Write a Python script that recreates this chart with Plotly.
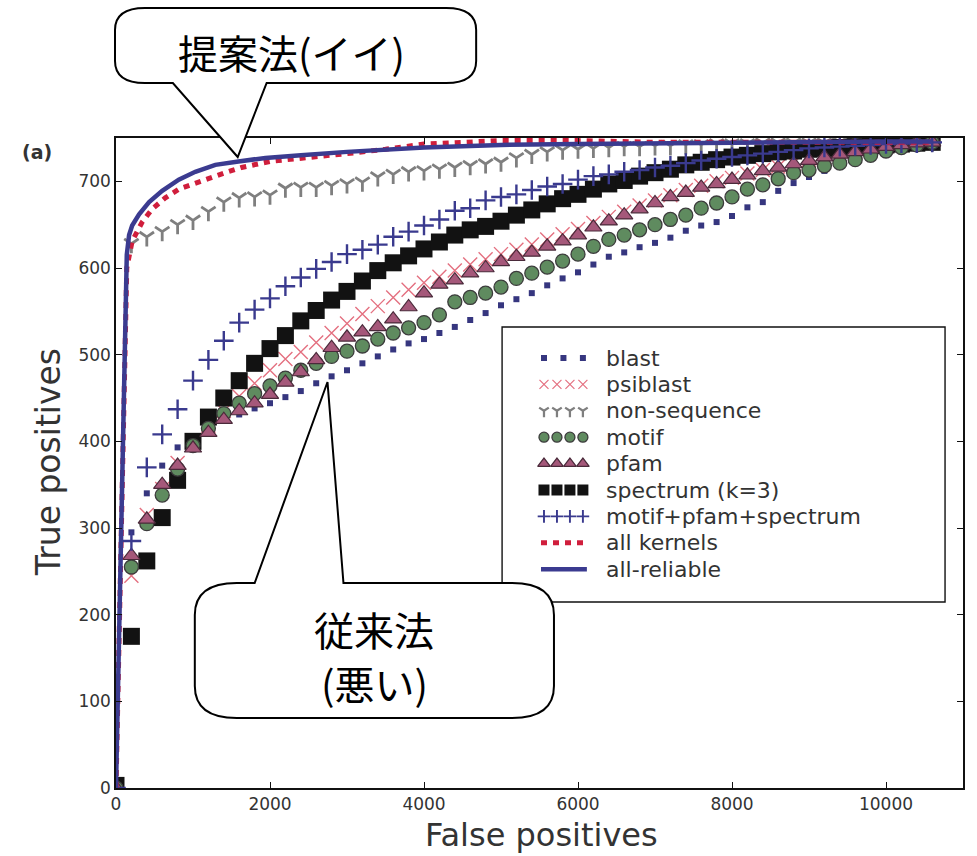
import plotly.graph_objects as go

# ---------------- data ----------------
fp_grid = [0, 200, 400, 600, 800, 1000, 1200, 1400, 1600, 1800,
           2000, 2200, 2400, 2600, 2800, 3000, 3200, 3400, 3600, 3800,
           4000, 4200, 4400, 4600, 4800, 5000, 5200, 5400, 5600, 5800,
           6000, 6200, 6400, 6600, 6800, 7000, 7200, 7400, 7600, 7800,
           8000, 8200, 8400, 8600, 8800, 9000, 9200, 9400, 9600, 9800,
           10000, 10200, 10400, 10600]

tp_blast = [0, 295, 340, 372, 393, 406, 416, 424, 431, 438,
            444, 451, 458, 467, 475, 482, 490, 498, 506, 513,
            518, 525, 532, 540, 548, 557, 564, 571, 580, 588,
            595, 604, 613, 618, 624, 629, 635, 643, 649, 653,
            660, 670, 676, 689, 698, 705, 712, 718, 724, 729,
            734, 738, 742, 745]

tp_psiblast = [0, 245, 315, 345, 375, 398, 418, 435, 452, 467,
               482, 495, 503, 514, 525, 536, 547, 556, 566, 575,
               583, 590, 597, 604, 610, 616, 621, 627, 633, 639,
               645, 652, 659, 665, 672, 678, 684, 690, 695, 700,
               704, 709, 713, 717, 721, 725, 728, 731, 734, 737,
               740, 742, 744, 745]

tp_nonseq = [0, 628, 636, 642, 650, 655, 665, 676, 681, 682,
             684, 692, 693, 693, 695, 697, 699, 705, 708, 711,
             712, 714, 716, 718, 720, 722, 727, 731, 734, 736,
             737, 738, 739, 740, 740, 741, 741, 742, 742, 743,
             743, 743, 744, 744, 744, 744, 744, 745, 745, 745,
             745, 745, 745, 745]

tp_motif = [0, 255, 305, 338, 368, 395, 415, 432, 444, 455,
            464, 473, 482, 490, 498, 504, 510, 518, 525, 531,
            537, 546, 561, 566, 571, 578, 588, 594, 601, 608,
            616, 625, 633, 638, 644, 650, 656, 661, 669, 675,
            682, 691, 696, 703, 710, 713, 718, 721, 725, 730,
            735, 739, 742, 745]

tp_pfam = [0, 268, 310, 350, 372, 392, 410, 425, 435, 444,
           454, 468, 480, 494, 508, 520, 526, 532, 541, 555,
           571, 581, 586, 594, 600, 607, 613, 618, 625, 631,
           638, 647, 654, 661, 668, 675, 682, 687, 693, 697,
           702, 707, 712, 716, 720, 724, 728, 731, 734, 737,
           740, 742, 744, 745]

tp_spectrum = [3, 175, 262, 312, 355, 400, 428, 450, 470, 490,
               507, 522, 539, 551, 563, 573, 585, 597, 606, 614,
               622, 630, 638, 644, 648, 654, 661, 667, 674, 680,
               685, 691, 697, 701, 706, 710, 714, 719, 722, 725,
               728, 730, 732, 734, 735, 737, 738, 739, 740, 741,
               742, 743, 744, 745]

tp_mps = [0, 285, 370, 408, 437, 470, 494, 516, 537, 552,
          565, 579, 589, 599, 607, 616, 621, 627, 636, 642,
          649, 656, 666, 669, 678, 682, 685, 690, 694, 697,
          702, 706, 708, 711, 713, 716, 718, 721, 724, 726,
          728, 730, 732, 734, 736, 738, 739, 740, 741, 742,
          743, 744, 744, 745]

fp_allk = [0, 20, 50, 80, 110, 140, 210, 340, 470, 640, 815, 990, 1200,
           1420, 1630, 2000, 2500, 3000, 3500, 4000, 5000, 6000, 7000,
           8000, 9000, 10000, 10600]
tp_allk = [0, 80, 205, 335, 465, 600, 631, 653, 668, 681, 691, 697, 703,
           710, 716, 723, 727, 732, 737, 743, 747, 747, 745,
           745, 745, 745, 745]

fp_allrel = [0, 20, 50, 80, 110, 140, 170, 210, 300, 430, 600, 815, 1030,
             1290, 1590, 1940, 2400, 3000, 4000, 5000, 6000, 7000, 8000,
             9000, 10000, 10600]
tp_allrel = [0, 85, 210, 345, 480, 615, 638, 649, 662, 676, 689, 702, 711,
             719, 723, 727, 730, 734, 739, 742, 743, 744, 745,
             746, 746, 746]

series_names = ["blast", "psiblast", "non-sequence", "motif", "pfam",
                "spectrum (k=3)", "motif+pfam+spectrum", "all kernels",
                "all-reliable"]

x_ticks = [0, 2000, 4000, 6000, 8000, 10000]
y_ticks = [0, 100, 200, 300, 400, 500, 600, 700]

# ---------------- styles ----------------
W, H = 977, 856
L, R, T, B = 116, 965, 138, 788
FONT = "DejaVu Sans"
CJK = "Noto Sans CJK JP"

NAVY = "#36367f"
RED = "#d01e3c"

styles = {
    "blast": dict(mode="markers", marker=dict(symbol="square", size=6, color=NAVY)),
    "psiblast": dict(mode="markers", marker=dict(symbol="x-thin", size=14,
                     line=dict(color="#e47080", width=1.4))),
    "non-sequence": dict(mode="markers", marker=dict(symbol="y-down", size=12,
                         line=dict(color="#7f7f7f", width=2.8))),
    "motif": dict(mode="markers", marker=dict(symbol="circle", size=14, color="#5f8b5f",
                  line=dict(color="#3c3c3c", width=1.3))),
    "pfam": dict(mode="markers", marker=dict(symbol="triangle-up", size=15, color="#a5587a",
                 line=dict(color="#4a2a3a", width=1.2))),
    "spectrum (k=3)": dict(mode="markers", marker=dict(symbol="square", size=17, color="#121212")),
    "motif+pfam+spectrum": dict(mode="markers", marker=dict(symbol="cross-thin", size=14,
                                line=dict(color="#3a3a8e", width=2.4))),
    "all kernels": dict(mode="lines", line=dict(color=RED, width=5, dash="6px,6px")),
    "all-reliable": dict(mode="lines", line=dict(color="#3b3b90", width=4.5)),
}

data_x = {
    "blast": fp_grid, "psiblast": fp_grid, "non-sequence": fp_grid,
    "motif": fp_grid, "pfam": fp_grid, "spectrum (k=3)": fp_grid,
    "motif+pfam+spectrum": fp_grid, "all kernels": fp_allk, "all-reliable": fp_allrel,
}
data_y = {
    "blast": tp_blast, "psiblast": tp_psiblast, "non-sequence": tp_nonseq,
    "motif": tp_motif, "pfam": tp_pfam, "spectrum (k=3)": tp_spectrum,
    "motif+pfam+spectrum": tp_mps, "all kernels": tp_allk, "all-reliable": tp_allrel,
}

draw_order = ["blast", "psiblast", "non-sequence", "spectrum (k=3)", "motif", "pfam",
              "motif+pfam+spectrum", "all kernels", "all-reliable"]

fig = go.Figure()
for name in draw_order:
    fig.add_trace(go.Scatter(x=data_x[name], y=data_y[name], name=name,
                             showlegend=False, cliponaxis=True, **styles[name]))


def P(px, py):
    return (px - L) / (R - L), (B - py) / (B - T)


# ---------------- hand-made legend (matplotlib look) ----------------
leg_x0, leg_x1, leg_y0, leg_y1 = 503, 947, 327, 602
row0, row_step = 358, 26.4
sym_x0, sym_x1 = 545, 584
text_x = 606

lx0, ly0 = P(leg_x0, leg_y1)
lx1, ly1 = P(leg_x1, leg_y0)
fig.add_shape(type="rect", xref="paper", yref="paper", x0=lx0, x1=lx1, y0=ly0, y1=ly1,
              line=dict(color="#111111", width=1.4), fillcolor="white", layer="below")

legend_marker_size = {"blast": 6, "psiblast": 9, "non-sequence": 8, "motif": 10,
                      "pfam": 11, "spectrum (k=3)": 11, "motif+pfam+spectrum": 9}
for i, name in enumerate(series_names):
    ry = row0 + i * row_step
    st = styles[name]
    if st["mode"] == "markers":
        n = 3 if name == "blast" else 4
        xs = [sym_x0 + (sym_x1 - sym_x0) * k / (n - 1) for k in range(n)]
        mk = dict(st["marker"])
        mk["size"] = legend_marker_size[name]
        if "line" in mk and name in ("psiblast", "non-sequence", "motif+pfam+spectrum"):
            mk["line"] = dict(mk["line"], width=max(1.2, mk["line"]["width"] * 0.8))
        fig.add_trace(go.Scatter(x=xs, y=[ry] * n, mode="markers", marker=mk,
                                 xaxis="x2", yaxis="y2", showlegend=False, hoverinfo="skip"))
    else:
        fig.add_trace(go.Scatter(x=[sym_x0 - 3, sym_x1 + 4], y=[ry, ry], mode="lines",
                                 line=st["line"], xaxis="x2", yaxis="y2",
                                 showlegend=False, hoverinfo="skip"))
    tx, ty = P(text_x, ry)
    fig.add_annotation(x=tx, y=ty, xref="paper", yref="paper", text=name, showarrow=False,
                       xanchor="left", yanchor="middle", borderpad=0,
                       font=dict(family=FONT, size=22, color="#333333"))

# ---------------- callouts ----------------
def callout_path(x0, y0, x1, y1, rx, ry, side, b0, b1, tip):
    pts = []
    def M(x, y): pts.append("M %.5f,%.5f" % P(x, y))
    def Lp(x, y): pts.append("L %.5f,%.5f" % P(x, y))
    def Q(cx, cy, x, y):
        a = P(cx, cy); b = P(x, y)
        pts.append("Q %.5f,%.5f %.5f,%.5f" % (a[0], a[1], b[0], b[1]))
    M(x0 + rx, y0)
    if side == "top":
        Lp(b0, y0); Lp(*tip); Lp(b1, y0)
    Lp(x1 - rx, y0)
    Q(x1, y0, x1, y0 + ry)
    Lp(x1, y1 - ry)
    Q(x1, y1, x1 - rx, y1)
    if side == "bottom":
        Lp(b1, y1); Lp(*tip); Lp(b0, y1)
    Lp(x0 + rx, y1)
    Q(x0, y1, x0, y1 - ry)
    Lp(x0, y0 + ry)
    Q(x0, y0, x0 + rx, y0)
    pts.append("Z")
    return " ".join(pts)


fig.add_shape(type="path", xref="paper", yref="paper", layer="above",
              path=callout_path(115, 8, 477, 83, 30, 22, "bottom", 173, 267, (238, 157)),
              line=dict(color="black", width=2), fillcolor="white")
fig.add_shape(type="path", xref="paper", yref="paper", layer="above",
              path=callout_path(195, 583, 555, 718, 42, 32, "top", 255, 344, (328, 382)),
              line=dict(color="black", width=2), fillcolor="white")

for txt, cx, cy in [("提案法(イイ)", 292, 52), ("従来法", 375, 629), ("(悪い)", 375, 683)]:
    ax_, ay_ = P(cx, cy)
    fig.add_annotation(x=ax_, y=ay_, xref="paper", yref="paper", text=txt, showarrow=False,
                       xanchor="center", yanchor="middle",
                       font=dict(family=CJK, size=40, color="black"))

# axis titles and panel label
ax_, ay_ = P(48, 462)
fig.add_annotation(x=ax_, y=ay_, xref="paper", yref="paper", text="True positives",
                   textangle=-90, showarrow=False, xanchor="center", yanchor="middle",
                   font=dict(family=FONT, size=33, color="#333333"))
ax_, ay_ = P(543, 835)
fig.add_annotation(x=ax_, y=ay_, xref="paper", yref="paper", text="False positives",
                   showarrow=False, xanchor="center", yanchor="middle", borderpad=0,
                   font=dict(family=FONT, size=32, color="#333333"))
ax_, ay_ = P(37, 152)
fig.add_annotation(x=ax_, y=ay_, xref="paper", yref="paper", text="<b>(a)</b>",
                   showarrow=False, xanchor="center", yanchor="middle",
                   font=dict(family=FONT, size=19, color="#333333"))

axis_common = dict(showline=True, linecolor="#111111", linewidth=1.5, mirror="ticks",
                   ticks="inside", ticklen=6, tickwidth=1.3, tickcolor="#111111",
                   showgrid=False, zeroline=False,
                   tickfont=dict(family=FONT, size=17, color="#333333"))

fig.update_layout(
    width=W, height=H,
    margin=dict(l=L, r=W - R, t=T, b=H - B, pad=0),
    paper_bgcolor="white", plot_bgcolor="white",
    xaxis=dict(range=[0, 11000], tickvals=x_ticks, ticktext=[str(v) for v in x_ticks],
               **axis_common),
    yaxis=dict(range=[0, 750], tickvals=y_ticks, ticktext=[str(v) for v in y_ticks],
               **axis_common),
    xaxis2=dict(overlaying="x", range=[L, R], visible=False, fixedrange=True),
    yaxis2=dict(overlaying="y", range=[B, T], visible=False, fixedrange=True),
    showlegend=False,
)

fig.write_html("out.html", config={"displayModeBar": False},
               post_script="document.body.style.margin='0px';")
